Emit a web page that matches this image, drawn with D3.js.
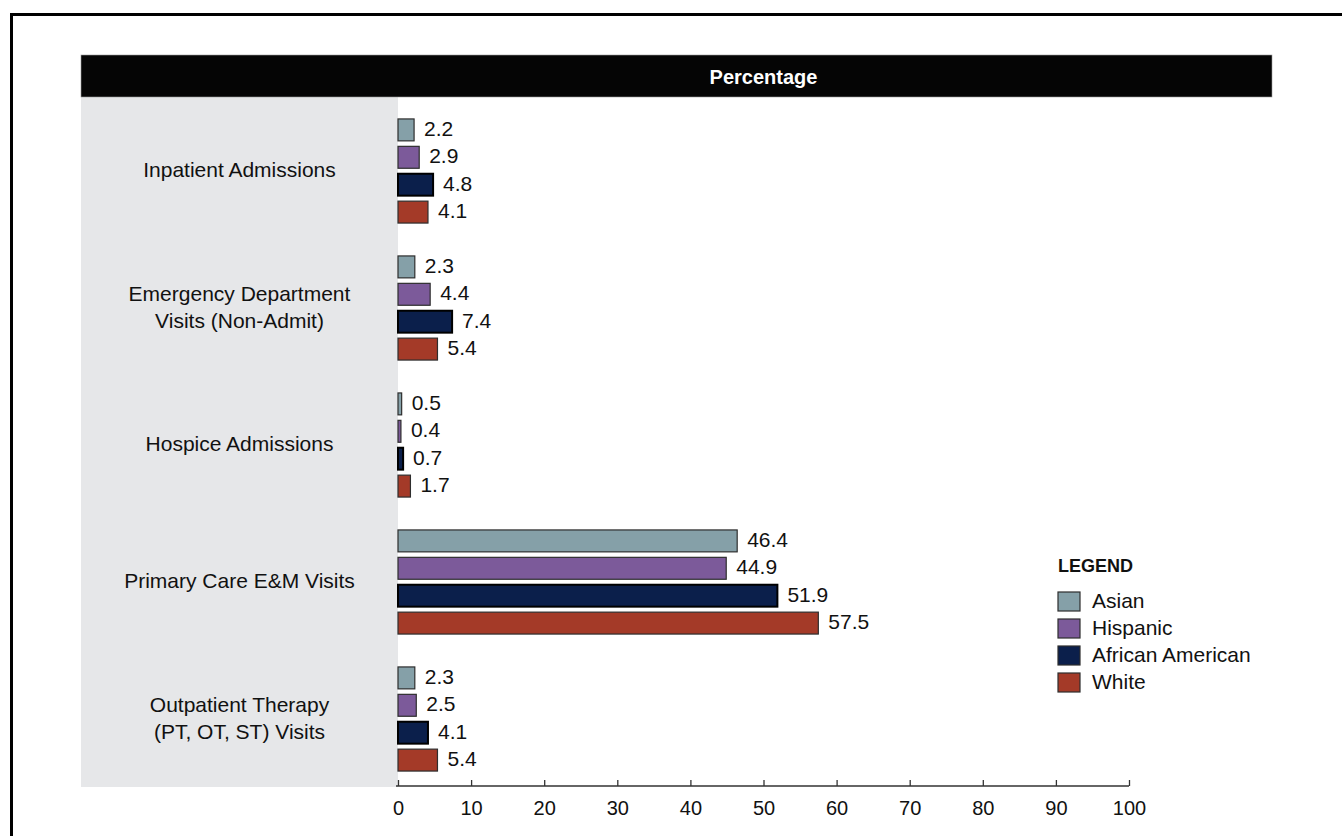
<!DOCTYPE html>
<html>
<head>
<meta charset="utf-8">
<script src="https://d3js.org/d3.v7.min.js"></script>
<style>
    body { margin: 0; background: #fff; }
    svg { display: block; font-family: "Liberation Sans", Arial, sans-serif; }
</style>
</head>
<body>
<svg id="chart"></svg>
<script>
// chart values
const categories = [
    "Inpatient Admissions",
    "Emergency Department\nVisits (Non-Admit)",
    "Hospice Admissions",
    "Primary Care E&M Visits",
    "Outpatient Therapy\n(PT, OT, ST) Visits"
];
const seriesNames = ["Asian", "Hispanic", "African American", "White"];
const asian = [2.2, 2.3, 0.5, 46.4, 2.3];
const hispanic = [2.9, 4.4, 0.4, 44.9, 2.5];
const africanAmerican = [4.8, 7.4, 0.7, 51.9, 4.1];
const white = [4.1, 5.4, 1.7, 57.5, 5.4];
const seriesColors = ["#85a0a8", "#7c5a9a", "#0b1f4b", "#a43a28"];
const tickValues = [0, 10, 20, 30, 40, 50, 60, 70, 80, 90, 100];
const axisTitle = "Percentage";
const legendTitle = "LEGEND";

class GroupedBars {
    constructor(width, height) {
        this.width = width;
        this.height = height;
        this.init();
    }

    init() {
        this.svg = d3.select("#chart")
            .attr("width", this.width)
            .attr("height", this.height);

        // frame: only top and left edges fall inside the picture
        this.svg.append("rect")
            .attr("x", 11.5).attr("y", 14.5)
            .attr("width", this.width + 20).attr("height", this.height + 20)
            .attr("fill", "none")
            .attr("stroke", "#000")
            .attr("stroke-width", 3);

        this.x = d3.scaleLinear().domain([0, 100]).range([398, 1129]);

        this.y = d3.scaleBand()
            .domain(categories)
            .range([102.5, 787.5])
            .paddingInner(0.24)
            .paddingOuter(0.12);

        this.ySub = d3.scaleBand()
            .domain(seriesNames)
            .range([0, this.y.bandwidth()])
            .paddingInner(0.2);

        this.color = d3.scaleOrdinal().domain(seriesNames).range(seriesColors);
    }

    draw() {
        var rows = categories.map((c, i) => ({
            cat: c,
            vals: [asian[i], hispanic[i], africanAmerican[i], white[i]]
        }));

        // gray label panel
        this.svg.append("rect")
            .attr("x", 81).attr("y", 97)
            .attr("width", this.x(0) - 81).attr("height", 787 - 97)
            .attr("fill", "#e6e7e9");

        // black header band
        this.svg.append("rect")
            .attr("x", 81).attr("y", 55)
            .attr("width", 1272 - 81).attr("height", 42)
            .attr("fill", "#050505")
            .attr("stroke", "#9a9a9a")
            .attr("stroke-width", 0.6);

        this.svg.append("text")
            .attr("x", (this.x(0) + this.x(100)) / 2)
            .attr("y", 84)
            .attr("text-anchor", "middle")
            .attr("fill", "#fff")
            .attr("font-weight", "bold")
            .attr("font-size", "20px")
            .text(axisTitle);

        // category labels, centred in the gray panel
        var labels = this.svg.selectAll(".catlabel")
            .data(rows)
            .join("text")
            .attr("class", "catlabel")
            .attr("text-anchor", "middle")
            .attr("font-size", "21px")
            .attr("fill", "#111");

        labels.each((d, i, nodes) => {
            var lines = d.cat.split("\n");
            var cy = this.y(d.cat) + this.y.bandwidth() / 2;
            var lh = 27;
            d3.select(nodes[i]).selectAll("tspan")
                .data(lines)
                .join("tspan")
                .attr("x", (81 + this.x(0)) / 2)
                .attr("y", (l, j) => cy + (j - (lines.length - 1) / 2) * lh)
                .attr("dy", "0.3em")
                .text((l) => l);
        });

        // bars
        var groups = this.svg.selectAll(".group")
            .data(rows)
            .join("g")
            .attr("class", "group")
            .attr("transform", (d) => "translate(0," + this.y(d.cat) + ")");

        var cells = groups.selectAll(".cell")
            .data((d) => d.vals.map((v, k) => ({ name: seriesNames[k], v: v })))
            .join("g")
            .attr("class", "cell");

        cells.append("rect")
            .attr("x", this.x(0))
            .attr("y", (d) => this.ySub(d.name))
            .attr("width", (d) => this.x(d.v) - this.x(0))
            .attr("height", this.ySub.bandwidth())
            .attr("fill", (d) => this.color(d.name))
            .attr("stroke", (d) => d.name === "African American" ? "#000" : "#2e2e2e")
            .attr("stroke-width", (d) => d.name === "African American" ? 2 : 1.2);

        cells.append("text")
            .attr("x", (d) => this.x(d.v) + 10)
            .attr("y", (d) => this.ySub(d.name) + this.ySub.bandwidth() / 2)
            .attr("dy", "0.28em")
            .attr("font-size", "21px")
            .attr("fill", "#111")
            .text((d) => d3.format(".1f")(d.v));

        // x axis, ticks pointing up
        var axis = d3.axisBottom(this.x)
            .tickValues(tickValues)
            .tickSize(-6)
            .tickPadding(0)
            .tickSizeOuter(0)
            .tickFormat(d3.format("d"));

        var gAxis = this.svg.append("g")
            .attr("transform", "translate(0,786)")
            .call(axis);

        gAxis.select(".domain")
            .attr("stroke", "#333")
            .attr("stroke-width", 1.5)
            .attr("d", "M" + (this.x(0) - 2) + ",0H" + this.x(100));
        gAxis.selectAll(".tick line").attr("stroke", "#333").attr("stroke-width", 1.3);
        gAxis.selectAll(".tick text")
            .attr("y", 29)
            .attr("dy", 0)
            .attr("font-size", "20px")
            .attr("font-family", "\"Liberation Sans\", Arial, sans-serif")
            .attr("fill", "#111");

        // legend
        var lg = this.svg.append("g").attr("transform", "translate(1058,0)");
        lg.append("text")
            .attr("x", 0).attr("y", 572)
            .attr("font-weight", "bold")
            .attr("font-size", "18px")
            .attr("fill", "#111")
            .text(legendTitle);

        var items = lg.selectAll(".item")
            .data(seriesNames)
            .join("g")
            .attr("class", "item")
            .attr("transform", (d, i) => "translate(0," + (592 + i * 27) + ")");

        items.append("rect")
            .attr("width", 22).attr("height", 19)
            .attr("fill", (d) => this.color(d))
            .attr("stroke", "#2e2e2e")
            .attr("stroke-width", 1.2);

        items.append("text")
            .attr("x", 34).attr("y", 9.5)
            .attr("dy", "0.33em")
            .attr("font-size", "21px")
            .attr("fill", "#111")
            .text((d) => d);
    }
}

var chart = new GroupedBars(1342, 836);
chart.draw();
</script>
</body>
</html>
